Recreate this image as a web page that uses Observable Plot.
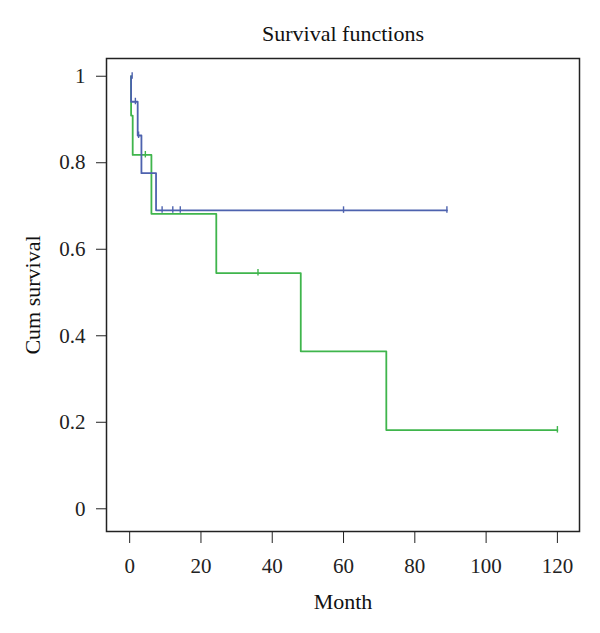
<!DOCTYPE html>
<html>
<head>
<meta charset="utf-8">
<script src="https://cdn.jsdelivr.net/npm/d3@7"></script>
<script src="https://cdn.jsdelivr.net/npm/@observablehq/plot@0.6"></script>
<style>
  html, body { margin: 0; padding: 0; background: #fff; }
</style>
</head>
<body>
<div id="chart"></div>
<script>
// Group 1 (green) Kaplan–Meier steps
const greenTime = [0.4, 0.4, 0.85, 6.1, 24.3, 48, 72, 120];
const greenSurv = [1, 0.909, 0.818, 0.682, 0.545, 0.364, 0.182, 0.182];
const greenCensorTime = [4.4, 36, 120];
const greenCensorSurv = [0.818, 0.545, 0.182];

// Group 2 (blue) Kaplan–Meier steps
const blueTime = [0.4, 0.4, 2.25, 3.3, 7.4, 89];
const blueSurv = [1, 0.941, 0.863, 0.776, 0.690, 0.690];
const blueCensorTime = [0.7, 1.6, 2.5, 9.1, 12.1, 14.2, 60, 89];
const blueCensorSurv = [1, 0.941, 0.863, 0.690, 0.690, 0.690, 0.690, 0.690];

const xTicks = [0, 20, 40, 60, 80, 100, 120];
const yTicks = [0, 0.2, 0.4, 0.6, 0.8, 1];

const titleText = "Survival functions";
const xLabel = "Month";
const yLabel = "Cum survival";

const greenColor = "#3fb54c";
const blueColor = "#4d62ae";

const green = greenTime.map((t, i) => ({t, s: greenSurv[i]}));
const blue = blueTime.map((t, i) => ({t, s: blueSurv[i]}));
const greenC = greenCensorTime.map((t, i) => ({t, s: greenCensorSurv[i]}));
const blueC = blueCensorTime.map((t, i) => ({t, s: blueCensorSurv[i]}));

// vertical censor tick symbol
const vtick = { draw(ctx) { ctx.moveTo(0, -4); ctx.lineTo(0, 2.5); } };

const font = "'Liberation Serif', 'DejaVu Serif', serif";

const chart = Plot.plot({
  width: 600,
  height: 633,
  marginLeft: 106,
  marginRight: 21,
  marginTop: 58,
  marginBottom: 102,
  style: { fontFamily: font, fontSize: "21px", color: "#222", background: "#fff" },
  x: {
    domain: [-6.5, 126.2],
    ticks: xTicks,
    tickSize: 12,
    tickPadding: 15,
    label: null
  },
  y: {
    domain: [-0.0525, 1.041],
    ticks: yTicks,
    tickSize: 10,
    tickPadding: 11,
    tickFormat: d => String(+d.toFixed(1)),
    label: null
  },
  marks: [
    Plot.frame({ stroke: "#222", strokeWidth: 1.5 }),
    Plot.line(green, { x: "t", y: "s", curve: "step-after", stroke: greenColor, strokeWidth: 1.8 }),
    Plot.dot(greenC, { x: "t", y: "s", symbol: vtick, stroke: greenColor, strokeWidth: 1.4, fill: "none" }),
    Plot.line(blue, { x: "t", y: "s", curve: "step-after", stroke: blueColor, strokeWidth: 1.8 }),
    Plot.dot(blueC, { x: "t", y: "s", symbol: vtick, stroke: blueColor, strokeWidth: 1.4, fill: "none" }),
    Plot.text([titleText], { text: d => d, frameAnchor: "top", dy: -25, lineAnchor: "middle", fontSize: 22, fill: "#111" }),
    Plot.text([xLabel], { text: d => d, frameAnchor: "bottom", dy: 70, lineAnchor: "middle", fontSize: 22, fill: "#111" }),
    Plot.text([yLabel], { text: d => d, frameAnchor: "left", dx: -74, rotate: -90, textAnchor: "middle", lineAnchor: "middle", fontSize: 22, fill: "#111" })
  ]
});

document.getElementById("chart").appendChild(chart);
</script>
</body>
</html>
